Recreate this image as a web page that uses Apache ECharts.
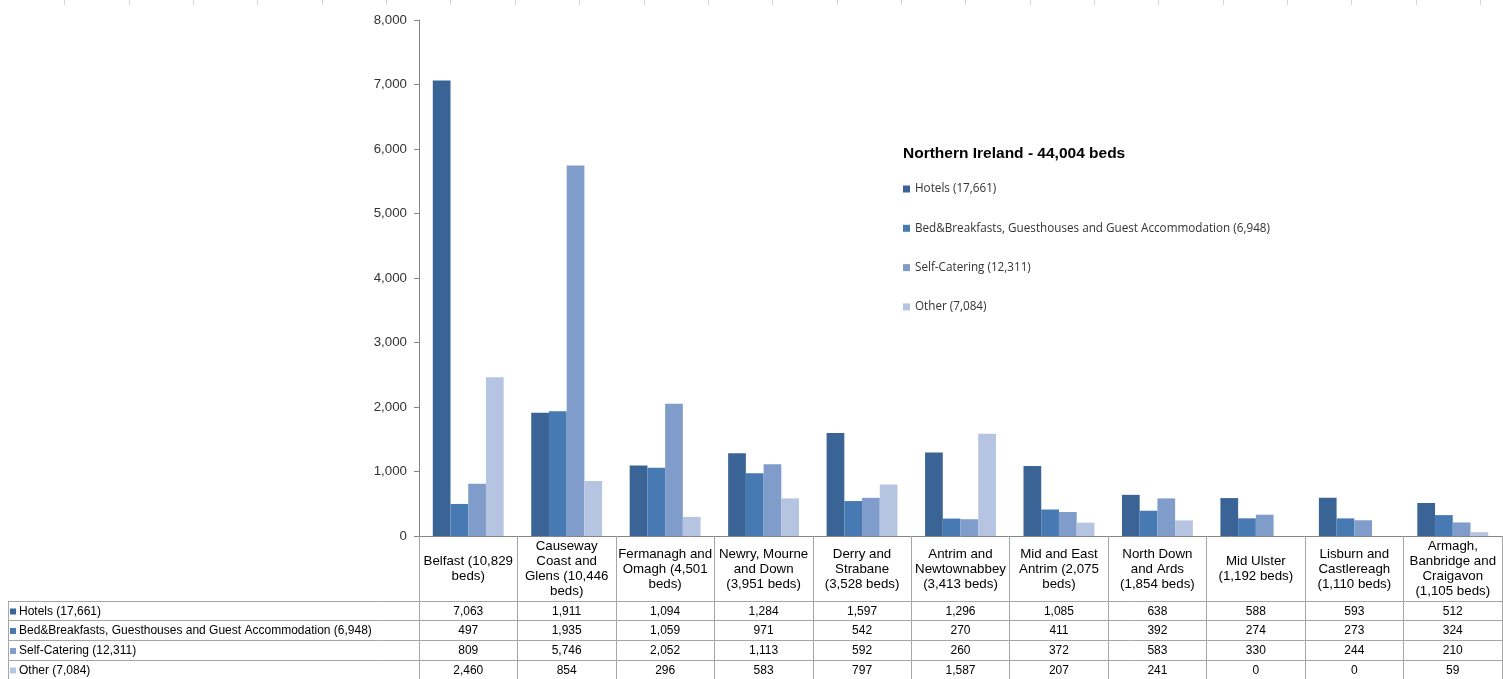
<!DOCTYPE html>
<html>
<head>
<meta charset="utf-8">
<script src="https://cdn.jsdelivr.net/npm/echarts@6/dist/echarts.min.js"></script>
<style>
  html, body { margin: 0; padding: 0; background: #fff; }
  #chart { width: 1503px; height: 679px; }
</style>
</head>
<body>
<div id="chart"></div>
<script>
// district names (wrapped like the table header)
const categories = [
  'Belfast (10,829\nbeds)',
  'Causeway\nCoast and\nGlens (10,446\nbeds)',
  'Fermanagh and\nOmagh (4,501\nbeds)',
  'Newry, Mourne\nand Down\n(3,951 beds)',
  'Derry and\nStrabane\n(3,528 beds)',
  'Antrim and\nNewtownabbey\n(3,413 beds)',
  'Mid and East\nAntrim (2,075\nbeds)',
  'North Down\nand Ards\n(1,854 beds)',
  'Mid Ulster\n(1,192 beds)',
  'Lisburn and\nCastlereagh\n(1,110 beds)',
  'Armagh,\nBanbridge and\nCraigavon\n(1,105 beds)'
];
const seriesNames = [
  'Hotels (17,661)',
  'Bed&Breakfasts, Guesthouses and Guest Accommodation (6,948)',
  'Self-Catering (12,311)',
  'Other (7,084)'
];
const hotels       = [7063, 1911, 1094, 1284, 1597, 1296, 1085, 638, 588, 593, 512];
const bnb          = [497, 1935, 1059, 971, 542, 270, 411, 392, 274, 273, 324];
const selfCatering = [809, 5746, 2052, 1113, 592, 260, 372, 583, 330, 244, 210];
const other        = [2460, 854, 296, 583, 797, 1587, 207, 241, 0, 0, 59];
const yMin = 0, yMax = 8000, yStep = 1000;
const title = 'Northern Ireland - 44,004 beds';

const colors = ['#3b6496', '#4779b3', '#7f9cca', '#b5c4e0'];
const allData = [hotels, bnb, selfCatering, other];
const font = 'Liberation Sans, Arial, sans-serif';
const lineColor = '#a6a6a6';

let chart = echarts.init(document.getElementById('chart'));

let series = allData.map(function (d, i) {
  return {
    name: seriesNames[i],
    type: 'bar',
    data: d,
    barGap: '0%',
    barCategoryGap: '28%',
    itemStyle: { color: colors[i] }
  };
});

chart.setOption({
  animation: false,
  title: {
    text: title,
    left: 898,
    top: 141,
    textStyle: { fontFamily: font, fontSize: 15.5, fontWeight: 'bold', color: '#000' }
  },
  legend: {
    orient: 'vertical',
    left: 898,
    top: 177,
    icon: 'rect',
    itemWidth: 7,
    itemHeight: 7,
    itemGap: 25.3,
    data: seriesNames,
    textStyle: { fontFamily: 'Open Sans', fontSize: 11.7, color: '#333', lineHeight: 14 }
  },
  grid: { left: 419, right: 1, top: 20, bottom: 143 },
  xAxis: {
    type: 'category',
    data: categories,
    axisLine: { lineStyle: { color: '#868686' } },
    axisTick: {
      show: true,
      interval: 0,
      length: 143,
      lineStyle: { color: lineColor }
    },
    axisLabel: {
      interval: 0,
      margin: 33,
      verticalAlign: 'middle',
      lineHeight: 15,
      fontFamily: font,
      fontSize: 13.3,
      color: '#000'
    }
  },
  yAxis: {
    type: 'value',
    min: yMin,
    max: yMax,
    interval: yStep,
    splitLine: { show: false },
    axisLine: { show: true, lineStyle: { color: '#868686' } },
    axisTick: { show: true, length: 5, lineStyle: { color: '#868686' } },
    axisLabel: {
      margin: 12,
      fontFamily: font,
      fontSize: 13.3,
      color: '#333',
      formatter: function (v) { return v.toLocaleString('en-US'); }
    }
  },
  series: series
});

// data table under the axis, placed with the category scale
let rowLines = [601, 620, 640, 660, 679];
let elements = [];

rowLines.forEach(function (y) {
  elements.push({
    type: 'line', silent: true,
    shape: { x1: 8, y1: y + 0.5, x2: 1502, y2: y + 0.5 },
    style: { stroke: lineColor, lineWidth: 1 }
  });
});
elements.push({
  type: 'line', silent: true,
  shape: { x1: 8.5, y1: 601, x2: 8.5, y2: 679 },
  style: { stroke: lineColor, lineWidth: 1 }
});

allData.forEach(function (d, r) {
  let yc = (rowLines[r] + rowLines[r + 1]) / 2 + 1;
  elements.push({
    type: 'rect', silent: true,
    shape: { x: 10, y: yc - 3, width: 6, height: 6 },
    style: { fill: colors[r] }
  });
  elements.push({
    type: 'text', silent: true,
    style: {
      x: 19, y: yc, text: seriesNames[r],
      font: '12px ' + font, fill: '#000',
      textAlign: 'left', textVerticalAlign: 'middle'
    }
  });
  d.forEach(function (v, i) {
    elements.push({
      type: 'text', silent: true,
      style: {
        x: chart.convertToPixel({ xAxisIndex: 0 }, i), y: yc,
        text: v.toLocaleString('en-US'),
        font: '12px ' + font, fill: '#000',
        textAlign: 'center', textVerticalAlign: 'middle'
      }
    });
  });
});

// faint sheet column marks along the top edge
for (let k = 1; k <= 23; k++) {
  let x = Math.round(64.35 * k) + 0.5;
  elements.push({
    type: 'line', silent: true,
    shape: { x1: x, y1: 0, x2: x, y2: 5 },
    style: { stroke: '#d4d4d4', lineWidth: 1 }
  });
}

chart.setOption({ graphic: { elements: elements } });
</script>
</body>
</html>
